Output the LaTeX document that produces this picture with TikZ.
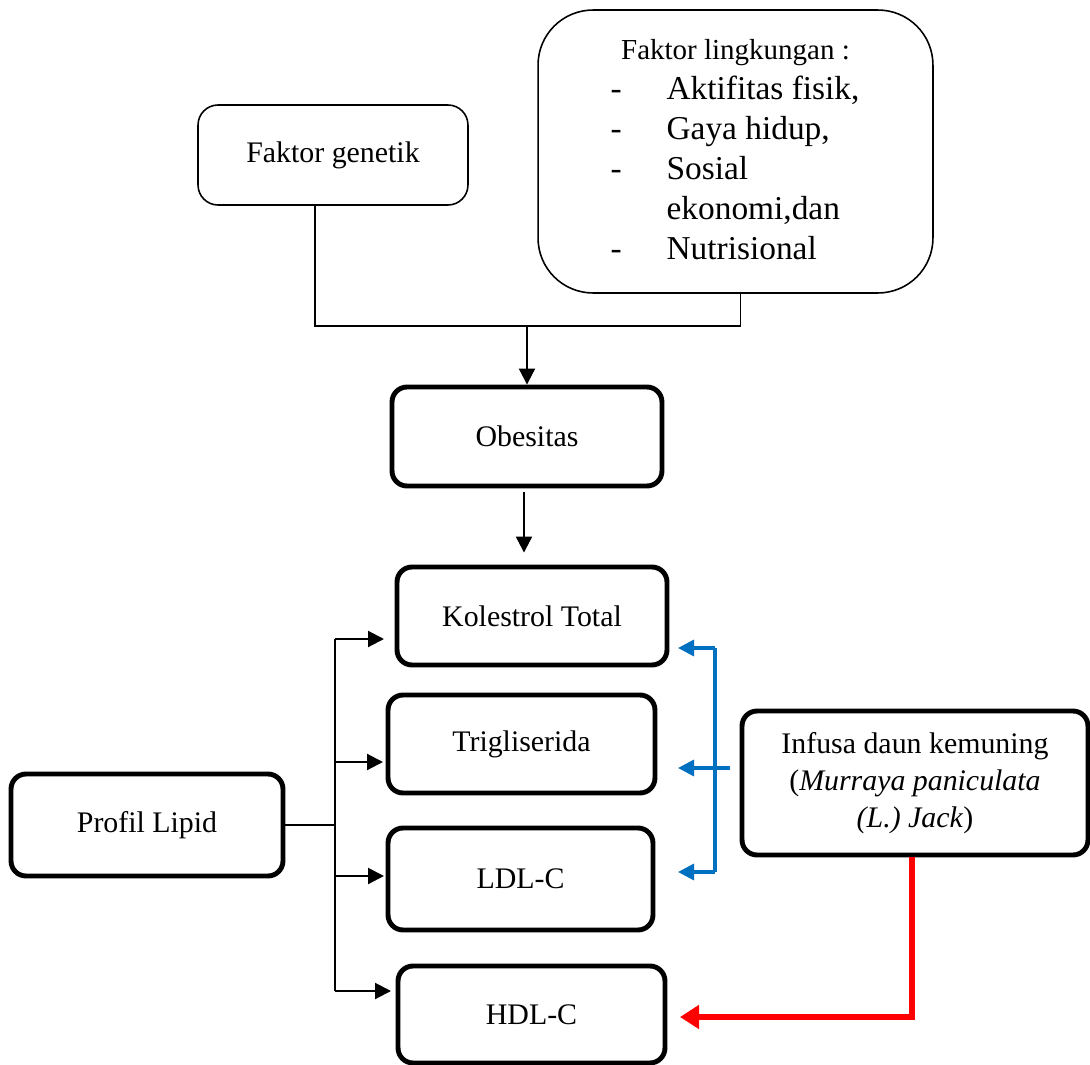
\documentclass[tikz,border=0pt]{standalone}
\usepackage{fontspec}
\setmainfont{Liberation Serif}
\usetikzlibrary{arrows.meta,calc}
\definecolor{infblue}{RGB}{0,112,192}

\begin{document}
\begin{tikzpicture}[x=0.02cm, y=-0.02cm,
		thinbox/.style={draw, line width=0.9pt, rounded corners=0.4cm, align=center, font=\fontsize{17}{21}\selectfont},
		thickbox/.style={draw, line width=2.8pt, rounded corners=0.3cm, align=center, font=\fontsize{17}{21}\selectfont},
		link/.style={line width=0.9pt},
		arr/.style={-{Triangle[length=0.32cm,width=0.32cm]}, line width=1.2pt},
		bluearr/.style={-{Triangle[length=0.32cm,width=0.32cm]}, line width=1.8pt, draw=infblue},
		redarr/.style={-{Triangle[length=0.38cm,width=0.46cm]}, line width=3.8pt, draw=red, line join=miter}]
		\useasboundingbox (0,0) rectangle (1090,1065);
		
		\node[thinbox, minimum width=5.4cm, minimum height=2cm] (gen) at (333,155) {Faktor genetik};
		\node[thinbox, rounded corners=1.1cm, minimum width=7.9cm, minimum height=5.66cm] (env) at (735.5,151.5) {%
			\fontsize{19}{22.8}\selectfont
			\begin{tabular}{@{}p{1.12cm}@{}l@{}}
				\multicolumn{2}{c}{\fontsize{16.5}{20}\selectfont Faktor lingkungan :}\\
				- & Aktifitas fisik,\\
				- & Gaya hidup,\\
				- & Sosial\\
				  & ekonomi,dan\\
				- & Nutrisional
			\end{tabular}};
		
		\node[thickbox, minimum width=5.4cm, minimum height=1.98cm] (obs) at (527,436.5) {Obesitas};
		\node[thickbox, minimum width=5.4cm, minimum height=1.96cm] (kol) at (532,616) {Kolestrol Total};
		\node[thickbox, minimum width=5.34cm, minimum height=1.96cm] (tri) at (521.5,744) {Trigliserida};
		\node[thickbox, minimum width=5.3cm, minimum height=2.04cm] (ldl) at (520.5,879) {LDL-C};
		\node[thickbox, minimum width=5.34cm, minimum height=1.94cm] (hdl) at (531.5,1014.5) {HDL-C};
		\node[thickbox, minimum width=5.44cm, minimum height=2.04cm] (pro) at (147,825) {Profil Lipid};
		\node[thickbox, minimum width=6.92cm, minimum height=2.88cm] (inf) at (915,783) {Infusa daun kemuning\\(\textit{Murraya paniculata}\\\textit{(L.) Jack})};
		
		\coordinate (topbus) at (527,326);
		\coordinate (gdrop) at ($(gen.south)+(-18,0)$);
		\coordinate (edrop) at ($(env.south)+(5,0)$);
		\draw[link] (gdrop) |- (topbus -| edrop) -- (edrop);
		\draw[arr] (topbus) -- (obs.north);
		\draw[arr, shorten <=0.08cm, shorten >=0.24cm] ($(obs.south)+(-3,0)$) -- ($(obs.south |- kol.north)+(-3,0)$);
		
		\coordinate (lsplit) at (335,825);
		\coordinate (kin) at (384,639);
		\coordinate (tin) at (383,762);
		\coordinate (lin) at (384,876);
		\coordinate (hin) at (391,991);
		\draw[line width=1.3pt] (pro.east) -- (lsplit);
		\draw[link] (lsplit |- kin) -- (lsplit |- hin);
		\foreach \t in {kin,tin,lin,hin}
			\draw[arr] (lsplit |- \t) -- (\t);
		
		\coordinate (btop) at (715,648);
		\coordinate (bbot) at (715,872);
		\coordinate (bstub) at (730,768);
		\coordinate (kout) at (678,648);
		\coordinate (tout) at (678,768);
		\coordinate (lout) at (678,872);
		\draw[infblue, line width=1.8pt] (btop) -- (bbot);
		\draw[bluearr] (btop) -- (kout);
		\draw[bluearr] (bstub) -- (tout);
		\draw[bluearr] (bbot) -- (lout);
		
		\coordinate (hout) at (680,1017);
		\draw[redarr] ($(inf.south)+(-3,0)$) |- (hout);
	\end{tikzpicture}
\end{document}
